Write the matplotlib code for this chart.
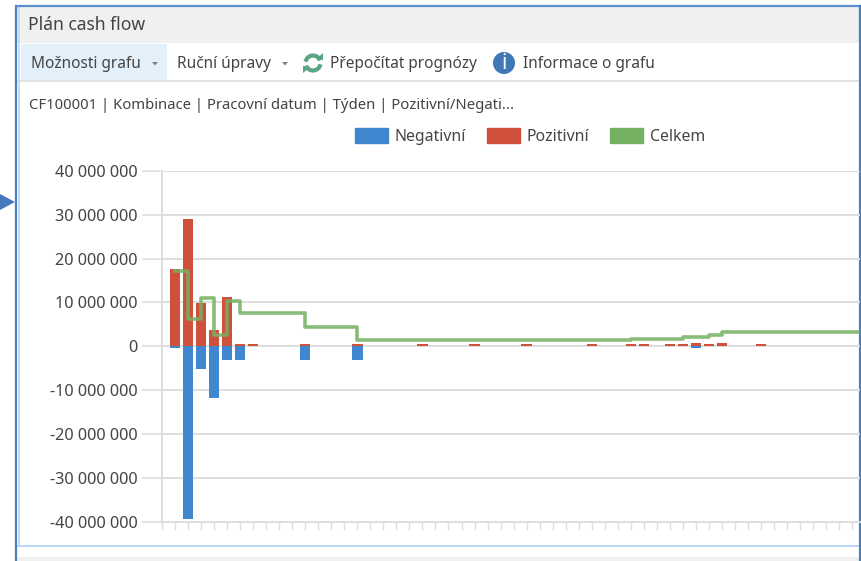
import matplotlib
matplotlib.use("Agg")
import matplotlib.pyplot as plt
from matplotlib.patches import Rectangle, Polygon, Circle, Arc, Patch
from matplotlib.ticker import FuncFormatter

W, H = 861, 561

weeks = list(range(1, 55))
positive = [17.7, 29.0, 9.8, 3.6, 11.2, 0.5, 0.4, 0, 0, 0, 0.4, 0, 0, 0, 0.4, 0, 0, 0,
            0, 0.4, 0, 0, 0, 0.4, 0, 0, 0, 0.4, 0, 0, 0, 0, 0.4, 0, 0, 0.4,
            0.4, 0, 0.4, 0.4, 0.7, 0.4, 0.7, 0, 0, 0.4, 0, 0, 0, 0, 0, 0, 0, 0]
negative = [-0.3, -39.5, -5.3, -11.7, -3.2, -3.2, 0, 0, 0, 0, -3.2, 0, 0, 0, -3.2, 0, 0, 0,
            0, 0, 0, 0, 0, 0, 0, 0, 0, 0, 0, 0, 0, 0, 0, 0, 0, 0,
            0, 0, 0, 0, -0.3, 0, 0, 0, 0, 0, 0, 0, 0, 0, 0, 0, 0, 0]
total = [17.2, 6.3, 11.0, 2.5, 10.3, 7.6, 7.6, 7.6, 7.6, 7.6, 4.5, 4.5, 4.5, 4.5, 1.5, 1.5, 1.5, 1.5,
         1.5, 1.5, 1.5, 1.5, 1.5, 1.5, 1.5, 1.5, 1.5, 1.5, 1.5, 1.5, 1.5, 1.5, 1.5, 1.5, 1.5, 1.7,
         1.7, 1.7, 1.7, 2.2, 2.2, 2.6, 3.2, 3.2, 3.2, 3.2, 3.2, 3.2, 3.2, 3.2, 3.2, 3.2, 3.2, 3.2]
y_ticks = [-40, -30, -20, -10, 0, 10, 20, 30, 40]
legend_labels = ["Negativní", "Pozitivní", "Celkem"]

BLUE = "#3f87cf"
RED = "#cf513b"
GREEN = "#74b062"
GRID = "#dedede"
TEXT = "#444444"
FONT = "Noto Sans"

plt.rcParams["font.family"] = FONT


def px_axes(fig, left, top, right, bottom):
    return fig.add_axes([left / W, 1 - bottom / H, (right - left) / W, (bottom - top) / H])


fig = plt.figure(figsize=(W / 100, H / 100), dpi=100)

# window chrome, drawn in pixel coordinates
ui = fig.add_axes([0, 0, 1, 1])
ui.set_xlim(0, W)
ui.set_ylim(H, 0)
ui.axis("off")

ui.add_patch(Rectangle((17, 7), 843, 36, fc="#f0f0f0", ec="none"))
ui.add_patch(Rectangle((21, 44), 146, 36, fc="#e3f0fa", ec="none"))
ui.add_patch(Rectangle((17, 80), 843, 2, fc="#e2e2e2", ec="none"))
ui.add_patch(Rectangle((17, 545), 843, 2, fc="#b9d6f5", ec="none"))
ui.add_patch(Rectangle((17, 557), 843, 4, fc="#f0f0f0", ec="none"))
ui.plot([16, 16], [6, H], color="#4a7fc1", lw=1.6)
ui.plot([18.5, 18.5], [7, 546], color="#c5dcf6", lw=1.4)
ui.plot([16, 860], [6, 6], color="#5b8ccb", lw=1.6)
ui.plot([860, 860], [6, H], color="#4a7fc1", lw=1.6)
ui.add_patch(Polygon([(0, 194), (0, 210), (15, 202)], fc="#4678bd", ec="none"))

ui.text(28, 25, "Plán cash flow", fontsize=12.6, color=TEXT, va="center")
ui.text(31, 64, "Možnosti grafu", fontsize=11.1, color=TEXT, va="center")
ui.text(177, 64, "Ruční úpravy", fontsize=11.1, color=TEXT, va="center")
ui.text(330, 64, "Přepočítat prognózy", fontsize=11.1, color=TEXT, va="center")
ui.text(523, 64, "Informace o grafu", fontsize=11.1, color=TEXT, va="center")
ui.text(29, 105, "CF100001 | Kombinace | Pracovní datum | Týden | Pozitivní/Negati...",
        fontsize=10.7, color=TEXT, va="center")

for tx in [155, 285]:
    ui.add_patch(Polygon([(tx - 3, 62), (tx + 3, 62), (tx, 65.5)], fc="#808080", ec="none"))

# refresh icon
ui.add_patch(Arc((313, 63), 15, 15, theta1=190, theta2=340, color="#5aa583", lw=3))
ui.add_patch(Arc((313, 63), 15, 15, theta1=10, theta2=160, color="#5aa583", lw=3))
ui.add_patch(Polygon([(316, 59), (323, 53), (323, 60)], fc="#5aa583", ec="none"))
ui.add_patch(Polygon([(310, 67), (303, 73), (303, 66)], fc="#5aa583", ec="none"))

# info icon
ui.add_patch(Circle((504, 63), 11, fc="#3f78b5", ec="none"))
ui.text(504, 63.5, "i", fontsize=15, fontweight="bold", color="white", ha="center", va="center")

# chart
ax = px_axes(fig, 162, 171, 860, 521.5)
ax.patch.set_alpha(0)
ax.set_xlim(0, 53.6)
ax.set_ylim(-40, 40)
ax.grid(axis="y", color=GRID, lw=1.4)
ax.set_axisbelow(True)

ax.bar(weeks, negative, width=0.8, color=BLUE, zorder=2)
ax.bar(weeks, positive, width=0.8, color=RED, zorder=2)
ax.step(weeks, total, where="post", color=GREEN, lw=2.6, alpha=0.85, zorder=3,
        solid_joinstyle="round")

ax.set_yticks(y_ticks)
ax.yaxis.set_major_formatter(FuncFormatter(
    lambda v, pos: f"{int(v * 1000000):,}".replace(",", " ")))
ax.set_xticks(range(0, 54))
ax.set_xticklabels([])
ax.tick_params(axis="y", length=14.5, width=1.2, color=GRID, labelsize=11.7,
               labelcolor=TEXT, pad=3)
ax.tick_params(axis="x", length=6, width=1.0, color=GRID)
for side in ["top", "right"]:
    ax.spines[side].set_visible(False)
for side in ["left", "bottom"]:
    ax.spines[side].set_color(GRID)
    ax.spines[side].set_linewidth(1.4)

handles = [Patch(color=BLUE), Patch(color=RED), Patch(color=GREEN)]
ax.legend(handles, legend_labels, ncol=3, frameon=False, fontsize=11.4, labelcolor=TEXT,
          loc="center left", bbox_to_anchor=(355 / W, 1 - 136.5 / H),
          bbox_transform=fig.transFigure, borderaxespad=0, borderpad=0,
          handlelength=2.08, handleheight=1.06, handletextpad=0.44, columnspacing=1.3)

fig.savefig("out.png", dpi=100)
